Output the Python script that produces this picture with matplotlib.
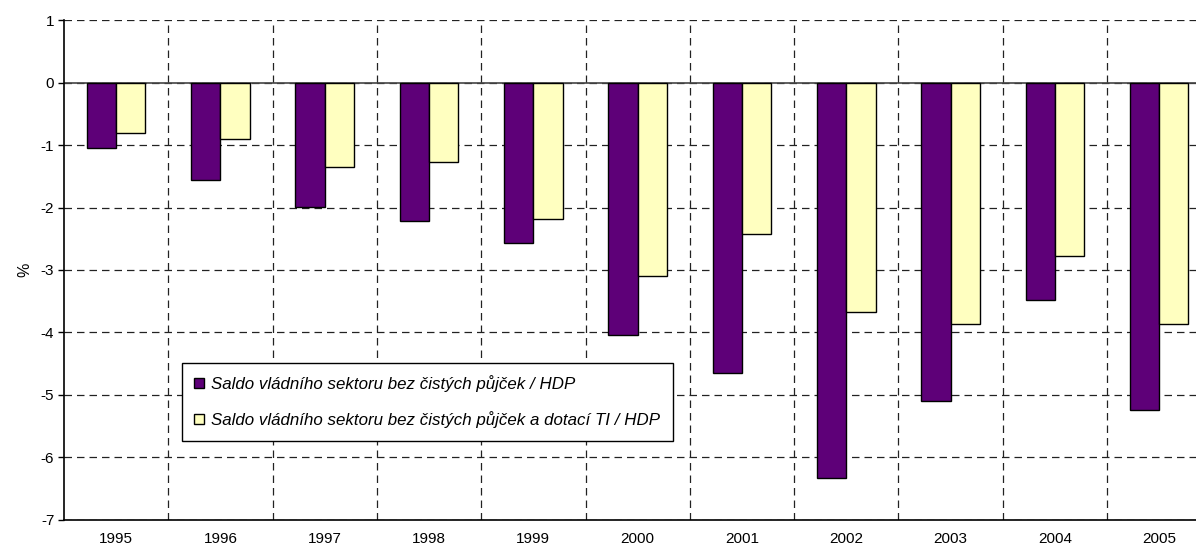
import numpy as np
import matplotlib.pyplot as plt
from matplotlib.patches import Patch

plt.rcParams['font.family'] = ['Liberation Sans', 'DejaVu Sans']
plt.rcParams['axes.unicode_minus'] = False

years = ['1995', '1996', '1997', '1998', '1999', '2000', '2001', '2002', '2003', '2004', '2005']
saldo_bez_pujcek = [-1.05, -1.56, -1.99, -2.22, -2.57, -4.04, -4.65, -6.33, -5.10, -3.48, -5.25]
saldo_bez_pujcek_ti = [-0.81, -0.91, -1.35, -1.27, -2.19, -3.10, -2.42, -3.68, -3.87, -2.77, -3.87]
labels = ['Saldo vládního sektoru bez čistých půjček / HDP',
          'Saldo vládního sektoru bez čistých půjček a dotací TI / HDP']

purple = '#5E0078'
yellow = '#FFFFC0'

fig = plt.figure(figsize=(11.96, 5.5), dpi=100)
# plot area runs past the right edge, like the cropped original
ax = fig.add_axes([64 / 1196, 1 - 519.5 / 550, 11 * 104.3 / 1196, 499.2 / 550])

x = np.arange(len(years))
w = 0.281
ax.bar(x - w / 2, saldo_bez_pujcek, w, color=purple, edgecolor='black', linewidth=1, zorder=3)
ax.bar(x + w / 2, saldo_bez_pujcek_ti, w, color=yellow, edgecolor='black', linewidth=1, zorder=3)

ax.set_xlim(-0.5, len(years) - 0.5)
ax.set_ylim(-7, 1)
ax.set_yticks(np.arange(-7, 2, 1))
ax.set_xticks(x)
ax.set_xticklabels(years)
ax.set_xticks(x[:-1] + 0.5, minor=True)

dash = (0, (6, 4))
ax.grid(True, axis='y', which='major', color='#222222', linestyle=dash, linewidth=0.9, zorder=0)
ax.grid(True, axis='x', which='minor', color='#222222', linestyle=dash, linewidth=0.9, zorder=0)
ax.axhline(0, color='#444444', linewidth=1.2, zorder=2)

ax.tick_params(axis='x', which='both', length=0, labelsize=11, pad=9)
ax.tick_params(axis='y', which='major', length=4, width=1, labelsize=11, pad=3)
for s in ['top', 'right']:
    ax.spines[s].set_visible(False)
ax.spines['left'].set_linewidth(1.2)
ax.spines['bottom'].set_linewidth(1.2)

ax.set_ylabel('%', fontsize=11.5, labelpad=6)

handles = [Patch(facecolor=purple, edgecolor='black'), Patch(facecolor=yellow, edgecolor='black')]
leg = ax.legend(handles, labels, loc='upper left', bbox_to_anchor=(181.6 / 1196, 1 - 362.7 / 550),
                bbox_transform=fig.transFigure, fancybox=False, edgecolor='black',
                framealpha=1, handlelength=0.55, handleheight=0.55, handletextpad=0.45,
                labelspacing=1.1, borderpad=0.75, borderaxespad=0,
                prop={'style': 'italic', 'size': 12.2})
leg.get_frame().set_linewidth(1)
leg.set_zorder(5)

fig.savefig('out.png', dpi=100)
